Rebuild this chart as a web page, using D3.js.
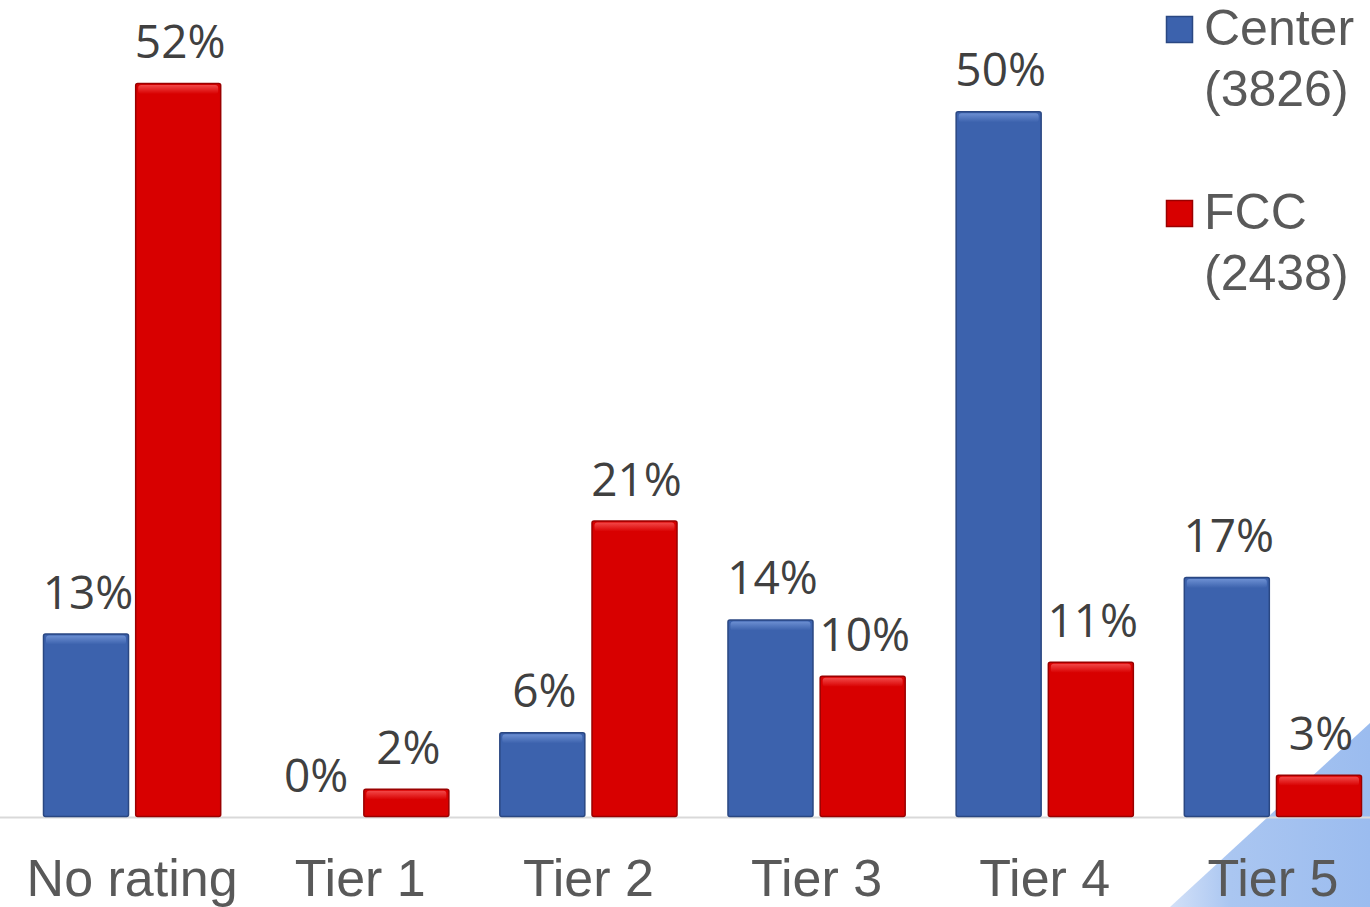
<!DOCTYPE html>
<html>
<head>
<meta charset="utf-8">
<script src="https://cdn.jsdelivr.net/npm/d3@7"></script>
<style>
  body { margin: 0; background: #fff; }
  svg { display: block; }
</style>
</head>
<body>
<div id="main"></div>
<script>
const categories = ["No rating", "Tier 1", "Tier 2", "Tier 3", "Tier 4", "Tier 5"];
const seriesNames = ["Center", "FCC"];
const seriesCounts = ["(3826)", "(2438)"];
const centerValues = [13, 0, 6, 14, 50, 17];
const fccValues = [52, 2, 21, 10, 11, 3];

const width = 1370;
const height = 907;
const baseline = 817;

const svg = d3.select("#main").append("svg").attr("width", width).attr("height", height);

// decorative slide corner
const defs = svg.append("defs");
const cornerGrad = defs.append("linearGradient").attr("id", "corner")
  .attr("x1", "0").attr("y1", "0").attr("x2", "1").attr("y2", "0");
cornerGrad.append("stop").attr("offset", "0").attr("stop-color", "#d3e1f8");
cornerGrad.append("stop").attr("offset", "0.3").attr("stop-color", "#aac6f1");
cornerGrad.append("stop").attr("offset", "1").attr("stop-color", "#9bbcef");
svg.append("path")
  .attr("d", "M1170,907 L1370,907 L1370,723 Z")
  .attr("fill", "url(#corner)");

const x = d3.scaleBand().domain(categories).range([43, 1362]).paddingInner(0.219).paddingOuter(0);
const xs = d3.scaleBand().domain(seriesNames).range([0, x.bandwidth()]).paddingInner(0.067);
const y = d3.scaleLinear().domain([0, 52]).range([baseline, 83]);

const colors = {
  Center: { fill: "#3c62ad", stroke: "#2a4782", hi: "#6c8fd2" },
  FCC: { fill: "#d80000", stroke: "#9a0000", hi: "#f24848" }
};

seriesNames.forEach((s) => {
  const g = defs.append("linearGradient").attr("id", "hi-" + s)
    .attr("x1", "0").attr("y1", "0").attr("x2", "0").attr("y2", "1");
  g.append("stop").attr("offset", "0").attr("stop-color", colors[s].hi);
  g.append("stop").attr("offset", "1").attr("stop-color", colors[s].fill);
});

// axis line
svg.append("line")
  .attr("x1", 0).attr("x2", width)
  .attr("y1", baseline + 0.5).attr("y2", baseline + 0.5)
  .attr("stroke", "#d9d9d9").attr("stroke-width", 2);

const rows = [];
categories.forEach((c, i) => {
  rows.push({ cat: c, s: "Center", v: centerValues[i] });
  rows.push({ cat: c, s: "FCC", v: fccValues[i] });
});

const bars = svg.append("g").selectAll("g").data(rows).join("g");

bars.filter((d) => d.v > 0).append("rect")
  .attr("x", (d) => x(d.cat) + xs(d.s) + 0.5)
  .attr("y", (d) => y(d.v) + 0.5)
  .attr("width", xs.bandwidth() - 1)
  .attr("height", (d) => y(0) - y(d.v) - 1)
  .attr("rx", 2)
  .attr("fill", (d) => colors[d.s].fill)
  .attr("stroke", (d) => colors[d.s].stroke)
  .attr("stroke-width", 1.5);

bars.filter((d) => d.v > 0).append("rect")
  .attr("x", (d) => x(d.cat) + xs(d.s) + 3)
  .attr("y", (d) => y(d.v) + 2)
  .attr("width", xs.bandwidth() - 6)
  .attr("height", 9)
  .attr("rx", 3)
  .attr("fill", (d) => "url(#hi-" + d.s + ")");

bars.append("text")
  .attr("x", (d) => x(d.cat) + xs(d.s) + xs.bandwidth() / 2 + 2)
  .attr("y", (d) => y(d.v) - 25)
  .attr("text-anchor", "middle")
  .attr("font-family", "'Open Sans', sans-serif")
  .attr("font-size", 46)
  .attr("fill", "#404040")
  .text((d) => d.v + "%");

// category labels
const xAxis = svg.append("g")
  .attr("transform", `translate(0,${baseline})`)
  .call(d3.axisBottom(x).tickSize(0).tickPadding(0));
xAxis.select(".domain").remove();
xAxis.selectAll("text")
  .attr("dy", null)
  .attr("y", 79)
  .attr("font-family", "'Liberation Sans', Arial, sans-serif")
  .attr("font-size", 52)
  .attr("fill", "#595959");

// legend
const legend = svg.append("g");
seriesNames.forEach((s, i) => {
  const top = 16 + i * 184;
  legend.append("rect")
    .attr("x", 1166.5).attr("y", top + 0.5)
    .attr("width", 26).attr("height", 26)
    .attr("fill", colors[s].fill)
    .attr("stroke", colors[s].stroke).attr("stroke-width", 1.5);
  const t = legend.append("text")
    .attr("font-family", "'Liberation Sans', Arial, sans-serif")
    .attr("font-size", 50)
    .attr("fill", "#595959");
  t.append("tspan").attr("x", 1204).attr("y", top + 29).text(s);
  t.append("tspan").attr("x", 1204).attr("y", top + 90).text(seriesCounts[i]);
});
</script>
</body>
</html>
